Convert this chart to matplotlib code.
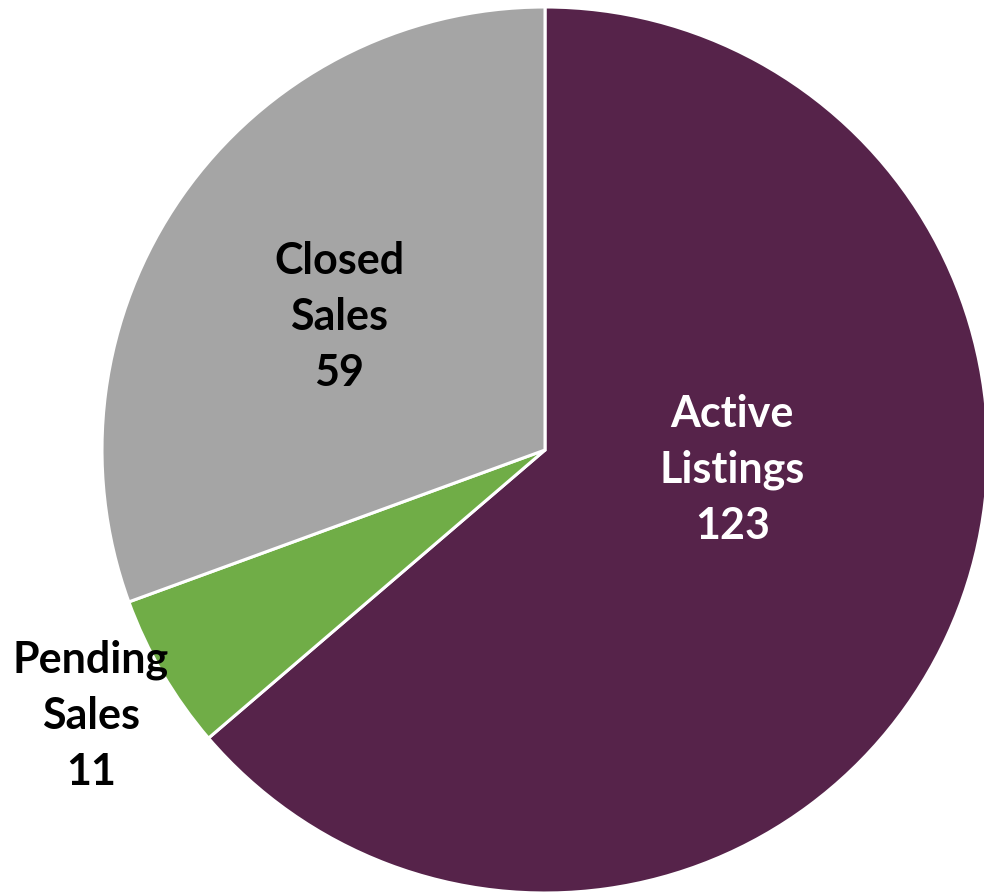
import matplotlib
matplotlib.use('Agg')
import matplotlib.pyplot as plt

categories = ['Active\nListings', 'Pending\nSales', 'Closed\nSales']
values = [123, 11, 59]
colors = ['#56234A', '#70AD47', '#A5A5A5']
label_colors = ['white', 'black', 'black']
# label anchor points in pie units (radius = 1)
label_pos = [(0.423, -0.045), (-1.025, -0.60), (-0.464, 0.30)]

W, H = 984, 894
fig = plt.figure(figsize=(W/100, H/100), dpi=100, facecolor='white')
R = 443
cx, cy = 545, 450
ax = fig.add_axes([(cx-R)/W, (H-cy-R)/H, 2*R/W, 2*R/H])
ax.pie(values, colors=colors, startangle=90, counterclock=False,
       wedgeprops=dict(edgecolor='white', linewidth=2.2))
ax.set_xlim(-1, 1); ax.set_ylim(-1, 1)
ax.axis('off')

for name, v, (x, y), c in zip(categories, values, label_pos, label_colors):
    ax.text(x, y, f'{name}\n{v}', color=c, fontsize=31, fontweight='bold',
            family=['Lato', 'DejaVu Sans'], ha='center', va='center',
            linespacing=1.48, clip_on=False)

fig.savefig('out.png', dpi=100, facecolor='white')
